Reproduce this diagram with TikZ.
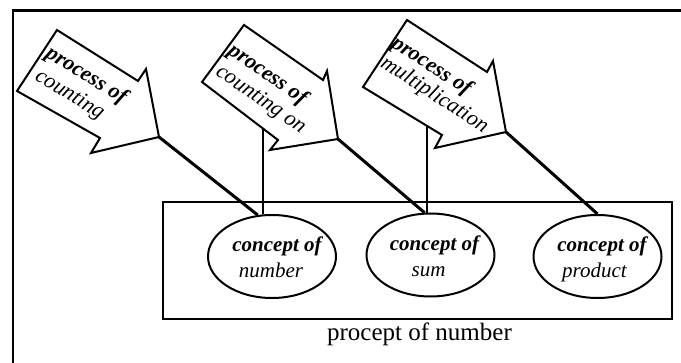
\documentclass[tikz,border=0pt]{standalone}
\usepackage{fontspec}
\setmainfont{Liberation Serif}
\usetikzlibrary{shapes.geometric}
\newcommand{\twolines}[4]{{\fontsize{22}{#3}\selectfont\begin{tabular}[t]{@{}l@{}}\textbf{\itshape #1}\\\hspace*{#4}\itshape #2\end{tabular}}}
\begin{document}
\begin{tikzpicture}[x=1pt,y=-1pt,
  frame/.style={line width=2.4pt},
  arrowshape/.style={draw, line width=2pt, line join=miter, fill=white},
  conn/.style={line width=3pt},
  vconn/.style={line width=2pt},
  group/.style={draw, line width=2pt},
  conc/.style={ellipse, draw, line width=2pt, minimum width=128pt, minimum height=83pt, inner sep=0pt},
  atxt/.style={anchor=base west, inner sep=0pt},
  cbold/.style={font=\fontsize{21}{25}\selectfont\bfseries\itshape, anchor=base, inner sep=0pt},
  cit/.style={font=\fontsize{21}{25}\selectfont\itshape, anchor=base, inner sep=0pt},
  caption/.style={font=\fontsize{25}{30}\selectfont, anchor=base, inner sep=0pt}
]
\useasboundingbox (0,0) rectangle (681,363);

% outer frame (only top and left visible)
\draw[frame] (13,363) -- (13,10.5) -- (681,10.5);

% group rectangle and caption
\node[group, minimum width=509pt, minimum height=116.5pt, inner sep=0pt] (box) at (417.5,260.75) {};
\node[caption] (cap) at (419.5,341) {procept of number};

% concept ellipses
\node[conc] (e1) at (272,256.5) {};
\node[conc] (e2) at (430.5,255) {};
\node[conc] (e3) at (597.5,256.5) {};
\node[cbold] (c1a) at ([xshift=5pt]e1.center |- 0,251.7) {concept of};
\node[cit]   (c1b) at ([xshift=-1pt]e1.center |- 0,277.7) {number};
\node[cbold] (c2a) at ([xshift=4pt]e2.center |- 0,250.5) {concept of};
\node[cit]   (c2b) at ([xshift=-2pt]e2.center |- 0,276.5) {sum};
\node[cbold] (c3a) at ([xshift=4.5pt]e3.center |- 0,251.7) {concept of};
\node[cit]   (c3b) at ([xshift=-3pt]e3.center |- 0,277.7) {product};

% arrow tips and edge points
\coordinate (t1) at (159,137);
\coordinate (t2) at (338,139);
\coordinate (t3) at (506,132);
\coordinate (s2) at (263,128.6);
\coordinate (s3) at (427,126.5);

% connectors
\draw[conn] (t1) -- (e1.109);
\draw[conn] (t2) -- (e2.98);
\draw[conn] (t3) -- (e3.north);
\draw[vconn] (e1.102 |- s2) -- (e1.102);
\draw[vconn] (e2.95 |- s3) -- (e2.95);

% process arrows
\draw[arrowshape] (57,30) -- (138,81) -- (146,69) -- (t1) -- (91,153) -- (100,138) -- (17,91) -- cycle;
\draw[arrowshape] (244,25) -- (323,80) -- (327,71) -- (t2) -- (270,150) -- (278,140) -- (202,82) -- cycle;
\draw[arrowshape] (407,20) -- (487,72) -- (493,61) -- (t3) -- (435,148) -- (442,135) -- (363,87) -- cycle;

% arrow texts
\begin{scope}[shift={(57,30)}, rotate=-31.5]
  \node[atxt, rotate=-31.5] (p1) at (3,29) {\twolines{process of}{counting}{25}{3pt}};
\end{scope}
\begin{scope}[shift={(244,25)}, rotate=-34.8]
  \node[atxt, rotate=-34.8] (p2) at (2,33) {\twolines{process of}{counting on}{24}{2pt}};
\end{scope}
\begin{scope}[shift={(407,20)}, rotate=-33]
  \node[atxt, rotate=-33] (p3) at (0,31) {\twolines{process of}{multiplication}{22.5}{2pt}};
\end{scope}
\end{tikzpicture}
\end{document}
